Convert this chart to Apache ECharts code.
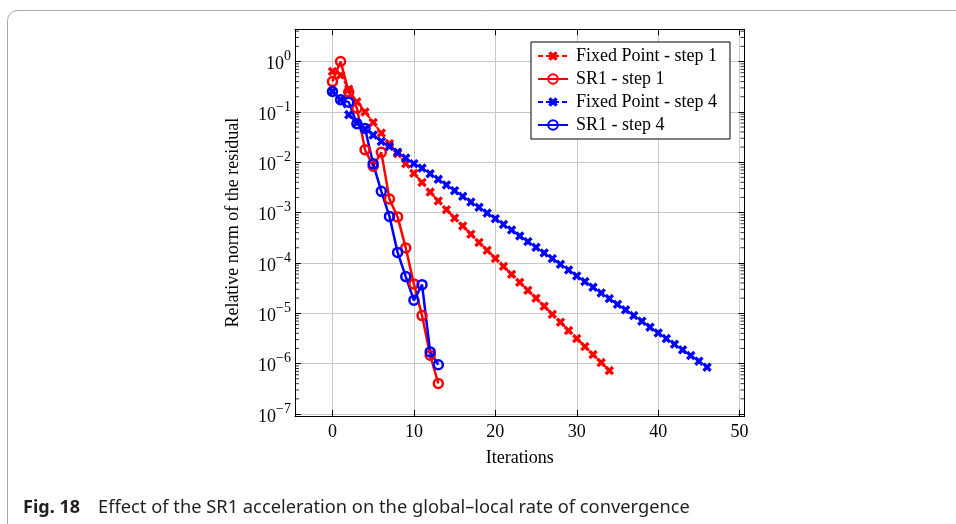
<!DOCTYPE html>
<html><head><meta charset="utf-8">
<script src="https://cdn.jsdelivr.net/npm/echarts@6/dist/echarts.min.js"></script>
<style>html,body{margin:0;padding:0;background:#fff;}#c{width:956px;height:524px;}</style>
</head><body><div id="c"></div>
<script>
// ---- data ----
const seriesNames = ['Fixed Point - step 1', 'SR1 - step 1', 'Fixed Point - step 4', 'SR1 - step 4'];
const fpStep1 = [0.634, 0.537, 0.282, 0.158, 0.100, 0.0617, 0.0380, 0.0234, 0.0148, 0.00933,
  0.00603, 0.00397, 0.00256, 0.00170, 0.00114, 7.80e-4, 5.42e-4, 3.72e-4, 2.56e-4, 1.78e-4,
  1.23e-4, 8.55e-5, 5.94e-5, 4.12e-5, 2.86e-5, 1.99e-5, 1.38e-5, 9.55e-6, 6.64e-6, 4.54e-6,
  3.15e-6, 2.18e-6, 1.51e-6, 1.05e-6, 7.30e-7];
const sr1Step1 = [0.40, 1.0, 0.247, 0.119, 0.0177, 0.0083, 0.0157, 1.86e-3, 8.2e-4, 1.99e-4,
  3.83e-5, 9.0e-6, 1.47e-6, 4.03e-7];
const fpStep4 = [0.254, 0.174, 0.0875, 0.0603, 0.0457, 0.0346, 0.0259, 0.0206, 0.0158, 0.0121,
  0.00933, 0.00767, 0.00592, 0.00457, 0.00353, 0.00272, 0.00210, 0.00162, 0.00127, 9.79e-4,
  7.57e-4, 5.83e-4, 4.51e-4, 3.43e-4, 2.65e-4, 2.04e-4, 1.58e-4, 1.22e-4, 9.40e-5, 7.26e-5,
  5.52e-5, 4.26e-5, 3.29e-5, 2.54e-5, 1.96e-5, 1.51e-5, 1.17e-5, 8.99e-6, 6.95e-6, 5.28e-6,
  4.08e-6, 3.15e-6, 2.43e-6, 1.88e-6, 1.45e-6, 1.12e-6, 8.51e-7];
const sr1Step4 = [0.254, 0.174, 0.156, 0.058, 0.0469, 0.0093, 2.64e-3, 8.4e-4, 1.62e-4, 5.35e-5,
  1.81e-5, 3.7e-5, 1.71e-6, 9.5e-7];
const xTickLabels = ['0', '10', '20', '30', '40', '50'];
const yTickExponents = ['−7', '−6', '−5', '−4', '−3', '−2', '−1', '0'];
const xAxisTitle = 'Iterations';
const yAxisTitle = 'Relative norm of the residual';
const captionLabel = 'Fig. 18';
const captionText = 'Effect of the SR1 acceleration on the global–local rate of convergence';

// ---- axis extents ----
const X_MIN = -4.6, X_MAX = 50.6;
const Y_MIN = Math.pow(10, -7.04), Y_MAX = Math.pow(10, 0.64);

const minorTickValues = [];
for (let k = -8; k <= 0; k++) {
  for (let m = 2; m <= 9; m++) {
    const v = m * Math.pow(10, k);
    if (v > Y_MIN && v < Y_MAX) minorTickValues.push(v);
  }
}

const SERIF = 'Liberation Serif';
const CROSS = 'path://M0,2.5 L2.5,0 L5,2.5 L7.5,0 L10,2.5 L7.5,5 L10,7.5 L7.5,10 L5,7.5 L2.5,10 L0,7.5 L2.5,5 Z';
const RED = '#ff0000', BLUE = '#0000ff';
const toXY = arr => arr.map((v, i) => [i, v]);

function xLabel(v) {
  const idx = Math.round(v / 10);
  if (Math.abs(v - idx * 10) > 1e-6 || idx < 0 || idx >= xTickLabels.length) return '';
  return xTickLabels[idx];
}
function yLabel(v) {
  const e = Math.log10(v);
  const r = Math.round(e);
  if (Math.abs(e - r) > 1e-6) return '';
  const idx = r + 7;
  if (idx < 0 || idx >= yTickExponents.length) return '';
  return '{b|10}{s|' + yTickExponents[idx] + '}';
}

const chart = echarts.init(document.getElementById('c'), null, {renderer: 'canvas'});
const axisLineStyle = {color: '#000', width: 1};
const gridLineStyle = {color: '#c8c8c8', width: 1};

function minorTicks(params, api) {
  const y = api.coord([X_MIN, api.value(1)])[1];
  const cs = params.coordSys;
  const st = {stroke: '#000', lineWidth: 0.8};
  return {type: 'group', children: [
    {type: 'line', shape: {x1: cs.x, y1: y, x2: cs.x + 4, y2: y}, style: st},
    {type: 'line', shape: {x1: cs.x + cs.width - 4, y1: y, x2: cs.x + cs.width, y2: y}, style: st}
  ]};
}

function crossSeries(name, data, color) {
  return {name: name, type: 'line', data: toXY(data), xAxisIndex: 0, yAxisIndex: 0,
    symbol: CROSS, symbolSize: 9.5, showAllSymbol: true,
    lineStyle: {color: color, width: 2, type: [5, 3]}, itemStyle: {color: color}};
}
function circleSeries(name, data, color) {
  return {name: name, type: 'line', data: toXY(data), xAxisIndex: 0, yAxisIndex: 0,
    symbol: 'circle', symbolSize: 9, showAllSymbol: true,
    lineStyle: {color: color, width: 2.5},
    itemStyle: {color: 'rgba(255,255,255,0)', borderColor: color, borderWidth: 2.5}};
}

chart.setOption({
  animation: false,
  backgroundColor: '#fff',
  grid: {left: 295, right: 211.5, top: 29.3, bottom: 108, containLabel: false, outerBoundsMode: 'none'},
  legend: {
    data: seriesNames, orient: 'vertical', left: 531, top: 42,
    padding: [5, 13, 5, 6], itemGap: 5, itemWidth: 30, itemHeight: 12,
    borderColor: '#000', borderWidth: 1, borderRadius: 0, backgroundColor: '#fff',
    textStyle: {fontFamily: SERIF, fontSize: 18, color: '#000', lineHeight: 18, padding: [0, 0, 0, 3]}
  },
  xAxis: [{
    type: 'value', position: 'bottom', min: X_MIN, max: X_MAX, splitNumber: 5,
    axisLine: {show: true, onZero: false, lineStyle: axisLineStyle},
    axisTick: {show: true, inside: true, length: 6, lineStyle: axisLineStyle},
    axisLabel: {show: true, margin: 7, fontFamily: SERIF, fontSize: 18, color: '#000', formatter: xLabel},
    splitLine: {show: true, lineStyle: gridLineStyle},
    name: xAxisTitle, nameLocation: 'middle', nameGap: 33,
    nameTextStyle: {fontFamily: SERIF, fontSize: 18, color: '#000'}
  }, {
    type: 'value', position: 'top', min: X_MIN, max: X_MAX, splitNumber: 5,
    axisLine: {show: true, onZero: false, lineStyle: axisLineStyle},
    axisTick: {show: true, inside: true, length: 6, lineStyle: axisLineStyle},
    axisLabel: {show: false}, splitLine: {show: false}
  }],
  yAxis: [{
    type: 'log', logBase: 10, position: 'left', min: Y_MIN, max: Y_MAX,
    axisLine: {show: true, onZero: false, lineStyle: axisLineStyle},
    axisTick: {show: true, inside: true, length: 6, lineStyle: axisLineStyle},
    axisLabel: {show: true, margin: 4, formatter: yLabel, color: '#000',
      rich: {
        b: {fontFamily: SERIF, fontSize: 18, color: '#000', lineHeight: 24, verticalAlign: 'bottom'},
        s: {fontFamily: SERIF, fontSize: 14, color: '#000', lineHeight: 15, verticalAlign: 'top'}
      }},
    splitLine: {show: true, lineStyle: gridLineStyle},
    minorTick: {show: false},
    name: yAxisTitle, nameLocation: 'middle', nameGap: 53, nameRotate: 90,
    nameTextStyle: {fontFamily: SERIF, fontSize: 18, color: '#000'}
  }, {
    type: 'log', logBase: 10, position: 'right', min: Y_MIN, max: Y_MAX,
    axisLine: {show: true, onZero: false, lineStyle: axisLineStyle},
    axisTick: {show: true, inside: true, length: 6, lineStyle: axisLineStyle},
    axisLabel: {show: false}, splitLine: {show: false}
  }],
  series: [
    crossSeries(seriesNames[0], fpStep1, RED),
    circleSeries(seriesNames[1], sr1Step1, RED),
    crossSeries(seriesNames[2], fpStep4, BLUE),
    circleSeries(seriesNames[3], sr1Step4, BLUE),
    {name: 'minor-ticks', type: 'custom', silent: true, clip: false, xAxisIndex: 0, yAxisIndex: 0,
      data: minorTickValues.map(v => [X_MIN, v]), renderItem: minorTicks, z: 1}
  ],
  graphic: [
    {type: 'rect', silent: true, z: -10, shape: {x: 7.5, y: 10.5, width: 1000, height: 600, r: 10},
      style: {fill: 'none', stroke: '#a8a8a8', lineWidth: 1}},
    {type: 'text', left: 23, top: 499, silent: true,
      style: {text: captionLabel, font: 'bold 18px "Noto Sans"', fill: '#231f20'}},
    {type: 'text', left: 98, top: 499, silent: true,
      style: {text: captionText, font: '18.3px "Noto Sans"', fill: '#231f20'}}
  ]
});
</script>
</body></html>
